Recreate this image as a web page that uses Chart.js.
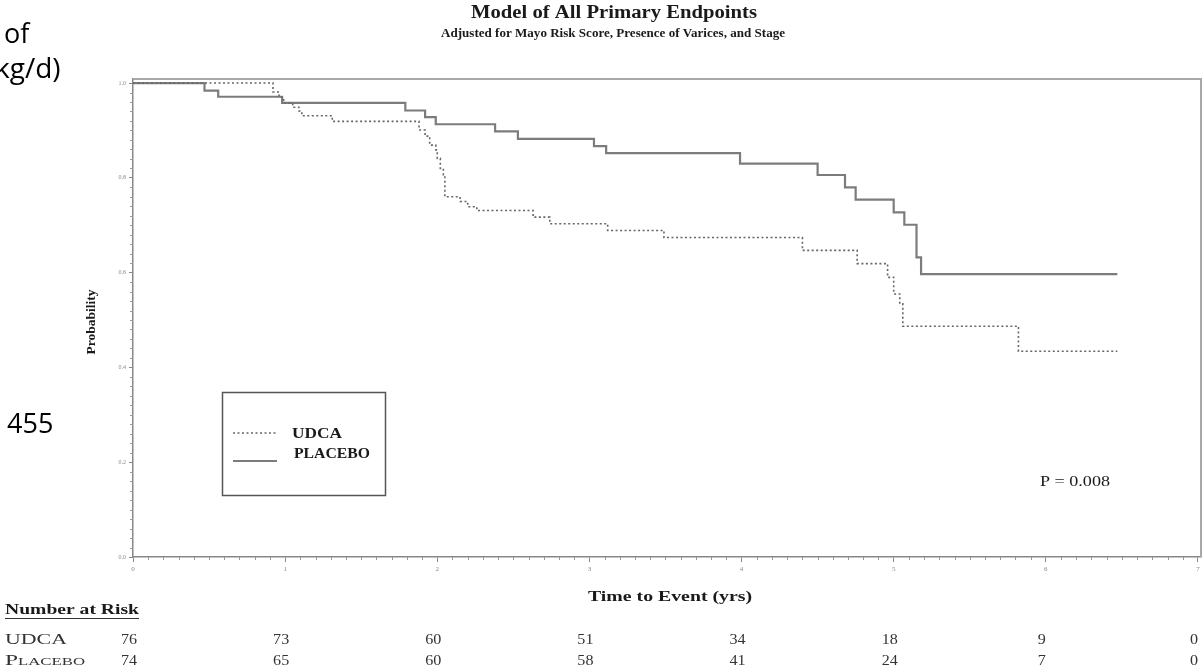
<!DOCTYPE html>
<html>
<head>
<meta charset="utf-8">
<script src="https://cdn.jsdelivr.net/npm/chart.js@4"></script>
<style>
  html, body { margin: 0; padding: 0; background: #fff; }
  #wrap { width: 1203px; height: 670px; position: relative; }
</style>
</head>
<body>
<div id="wrap"><canvas id="kmChart" width="1203" height="670"></canvas></div>
<script>
// survival curves: time of each drop (years) and probability after the drop
let udcaTimes = [0, 0.92, 0.96, 0.99, 1.05, 1.09, 1.11, 1.31, 1.88, 1.92, 1.95, 1.99, 2.00, 2.02, 2.04, 2.05,
  2.15, 2.20, 2.26, 2.63, 2.74, 3.12, 3.49, 4.40, 4.76, 4.96, 5.00, 5.04, 5.06, 5.82, 6.47];
let udcaProb = [1.0, 0.981, 0.970, 0.958, 0.949, 0.941, 0.931, 0.919, 0.901, 0.888, 0.869, 0.859, 0.841, 0.820, 0.806, 0.760,
  0.750, 0.739, 0.731, 0.717, 0.703, 0.689, 0.674, 0.647, 0.619, 0.590, 0.555, 0.534, 0.487, 0.434, 0.434];

let placeboTimes = [0, 0.47, 0.56, 0.98, 1.79, 1.92, 1.99, 2.38, 2.53, 3.03, 3.11, 3.99, 4.50, 4.68, 4.75,
  5.00, 5.07, 5.15, 5.18, 6.47];
let placeboProb = [1.0, 0.984, 0.971, 0.958, 0.942, 0.928, 0.913, 0.898, 0.882, 0.867, 0.852, 0.830, 0.806, 0.780, 0.754,
  0.727, 0.701, 0.632, 0.597, 0.597];

let xTicks = [0, 1, 2, 3, 4, 5, 6, 7];
let yTicks = [0.0, 0.2, 0.4, 0.6, 0.8, 1.0];

// rows of the at-risk table, one count per x tick
let riskGroups = ['UDCA', 'Placebo'];
let udcaAtRisk = [76, 73, 60, 51, 34, 18, 9, 0];
let placeboAtRisk = [74, 65, 60, 58, 41, 24, 7, 0];

let pValueText = 'P = 0.008';

const SERIF = '"Liberation Serif", "Times New Roman", serif';

function toPoints(xs, ys) {
  return xs.map((t, i) => ({ x: t, y: ys[i] }));
}

// the original lettering is a wide book face, so stretch text to its width
function fitText(ctx, text, x, y, width, align) {
  const w = ctx.measureText(text).width;
  ctx.save();
  ctx.translate(x, y);
  ctx.scale(width / w, 1);
  ctx.textAlign = align || 'left';
  ctx.fillText(text, 0, 0);
  ctx.restore();
}

function wideText(ctx, text, x, y, sx, align) {
  ctx.save();
  ctx.translate(x, y);
  ctx.scale(sx, 1);
  ctx.textAlign = align || 'left';
  ctx.fillText(text, 0, 0);
  ctx.restore();
}

// frame, minor ticks and all the loose text around the plot
const decorPlugin = {
  id: 'decor',
  beforeDatasetsDraw(chart) {
    const ctx = chart.ctx;
    const a = chart.chartArea;
    const xs = chart.scales.x, ys = chart.scales.y;
    ctx.save();
    // top and right edges of the frame
    ctx.strokeStyle = '#a8a8a8';
    ctx.lineWidth = 2;
    ctx.beginPath();
    ctx.moveTo(a.left, a.top);
    ctx.lineTo(a.right, a.top);
    ctx.lineTo(a.right, a.bottom);
    ctx.stroke();

    // minor ticks
    ctx.strokeStyle = '#999';
    ctx.lineWidth = 1;
    ctx.beginPath();
    for (let i = 0; i <= 70; i++) {
      if (i % 10 === 0) continue;
      const px = Math.round(xs.getPixelForValue(i / 10)) + 0.5;
      ctx.moveTo(px, a.bottom);
      ctx.lineTo(px, a.bottom + 3);
    }
    for (let i = 0; i <= 50; i++) {
      if (i % 10 === 0) continue;
      const py = Math.round(ys.getPixelForValue(i / 50)) + 0.5;
      ctx.moveTo(a.left - 3, py);
      ctx.lineTo(a.left, py);
    }
    ctx.stroke();
    ctx.restore();
  },
  afterDraw(chart) {
    const ctx = chart.ctx;
    const a = chart.chartArea;
    const xs = chart.scales.x;
    const plotMid = (a.left + a.right) / 2;
    ctx.save();
    ctx.fillStyle = '#1a1a1a';
    ctx.textBaseline = 'middle';

    // titles
    ctx.font = 'bold 18px ' + SERIF;
    fitText(ctx, 'Model of All Primary Endpoints', 614, 13, 286, 'center');
    ctx.font = 'bold 11.5px ' + SERIF;
    fitText(ctx, 'Adjusted for Mayo Risk Score, Presence of Varices, and Stage', 613, 34, 344, 'center');

    // axis titles
    ctx.font = 'bold 15px ' + SERIF;
    fitText(ctx, 'Time to Event (yrs)', plotMid + 3, 597, 164, 'center');
    ctx.save();
    ctx.translate(92, 322);
    ctx.rotate(-Math.PI / 2);
    ctx.font = 'bold 13px ' + SERIF;
    fitText(ctx, 'Probability', 0, 0, 65, 'center');
    ctx.restore();

    // legend box
    ctx.strokeStyle = '#555';
    ctx.lineWidth = 1.5;
    ctx.strokeRect(222.5, 392.5, 163, 103);
    const ds = chart.data.datasets;
    const rows = [433, 461];
    ds.forEach((d, i) => {
      ctx.save();
      ctx.strokeStyle = d.borderColor;
      ctx.lineWidth = d.borderWidth;
      ctx.setLineDash(d.borderDash || []);
      ctx.beginPath();
      ctx.moveTo(233, rows[i]);
      ctx.lineTo(277, rows[i]);
      ctx.stroke();
      ctx.restore();
    });
    ctx.font = 'bold 15px ' + SERIF;
    fitText(ctx, ds[0].label, 292, 434, 50, 'left');
    fitText(ctx, ds[1].label, 294, 454, 76, 'left');

    // p-value
    ctx.font = '14px ' + SERIF;
    fitText(ctx, pValueText, 1040, 482, 70, 'left');

    // number at risk table
    ctx.font = 'bold 14px ' + SERIF;
    fitText(ctx, 'Number at Risk', 5, 610, 134, 'left');
    ctx.strokeStyle = '#333';
    ctx.lineWidth = 1;
    ctx.beginPath();
    ctx.moveTo(5, 618.5);
    ctx.lineTo(139, 618.5);
    ctx.stroke();

    ctx.fillStyle = '#333';
    const tableRows = [udcaAtRisk, placeboAtRisk];
    const labelWidths = [62, 80];
    riskGroups.forEach((g, r) => {
      const y = 640 + r * 21;
      ctx.font = 'small-caps 14px ' + SERIF;
      fitText(ctx, g, 5, y, labelWidths[r], 'left');
      ctx.font = '14px ' + SERIF;
      tableRows[r].forEach((n, c) => {
        wideText(ctx, String(n), xs.getPixelForValue(xTicks[c]) - 4, y, 1.15, 'center');
      });
    });

    // slide text cut off at the left edge
    ctx.fillStyle = '#000';
    ctx.textBaseline = 'alphabetic';
    ctx.textAlign = 'left';
    ctx.font = '27px "Open Sans", sans-serif';
    ctx.fillText('of', 4, 43);
    ctx.font = '28px "Open Sans", sans-serif';
    ctx.fillText('kg/d)', -5, 78);
    ctx.font = '27px "Open Sans", sans-serif';
    ctx.fillText('455', 7, 433);
    ctx.restore();
  }
};

const chart = new Chart(document.getElementById('kmChart').getContext('2d'), {
  type: 'line',
  data: {
    datasets: [{
      label: 'UDCA',
      data: toPoints(udcaTimes, udcaProb),
      stepped: true,
      borderColor: '#666',
      borderWidth: 1.6,
      borderDash: [2, 2.5],
      pointRadius: 0,
      fill: false
    }, {
      label: 'PLACEBO',
      data: toPoints(placeboTimes, placeboProb),
      stepped: true,
      borderColor: '#7c7c7c',
      borderWidth: 2.2,
      pointRadius: 0,
      fill: false
    }]
  },
  options: {
    responsive: false,
    animation: false,
    devicePixelRatio: 1,
    layout: { padding: { top: 79, right: 2, left: 0, bottom: 0 } },
    plugins: {
      legend: { display: false },
      tooltip: { enabled: false }
    },
    scales: {
      x: {
        type: 'linear',
        min: 0,
        max: 7.02,
        afterBuildTicks: s => { s.ticks = xTicks.map(v => ({ value: v })); },
        afterFit: s => { s.height = 113; },
        ticks: { font: { size: 7, family: SERIF }, color: '#888', padding: 3, maxRotation: 0, autoSkip: false },
        grid: { drawOnChartArea: false, drawTicks: true, tickLength: 5, color: '#888' },
        border: { color: '#888', width: 1.5 }
      },
      y: {
        min: 0,
        max: 1.0085,
        afterBuildTicks: s => { s.ticks = yTicks.map(v => ({ value: v })); },
        afterFit: s => { s.width = 133; },
        ticks: { font: { size: 6, family: SERIF }, color: '#888', padding: 3, callback: v => v.toFixed(1) },
        grid: { drawOnChartArea: false, drawTicks: true, tickLength: 4, color: '#888' },
        border: { color: '#888', width: 1.5 }
      }
    }
  },
  plugins: [decorPlugin]
});
</script>
</body>
</html>
